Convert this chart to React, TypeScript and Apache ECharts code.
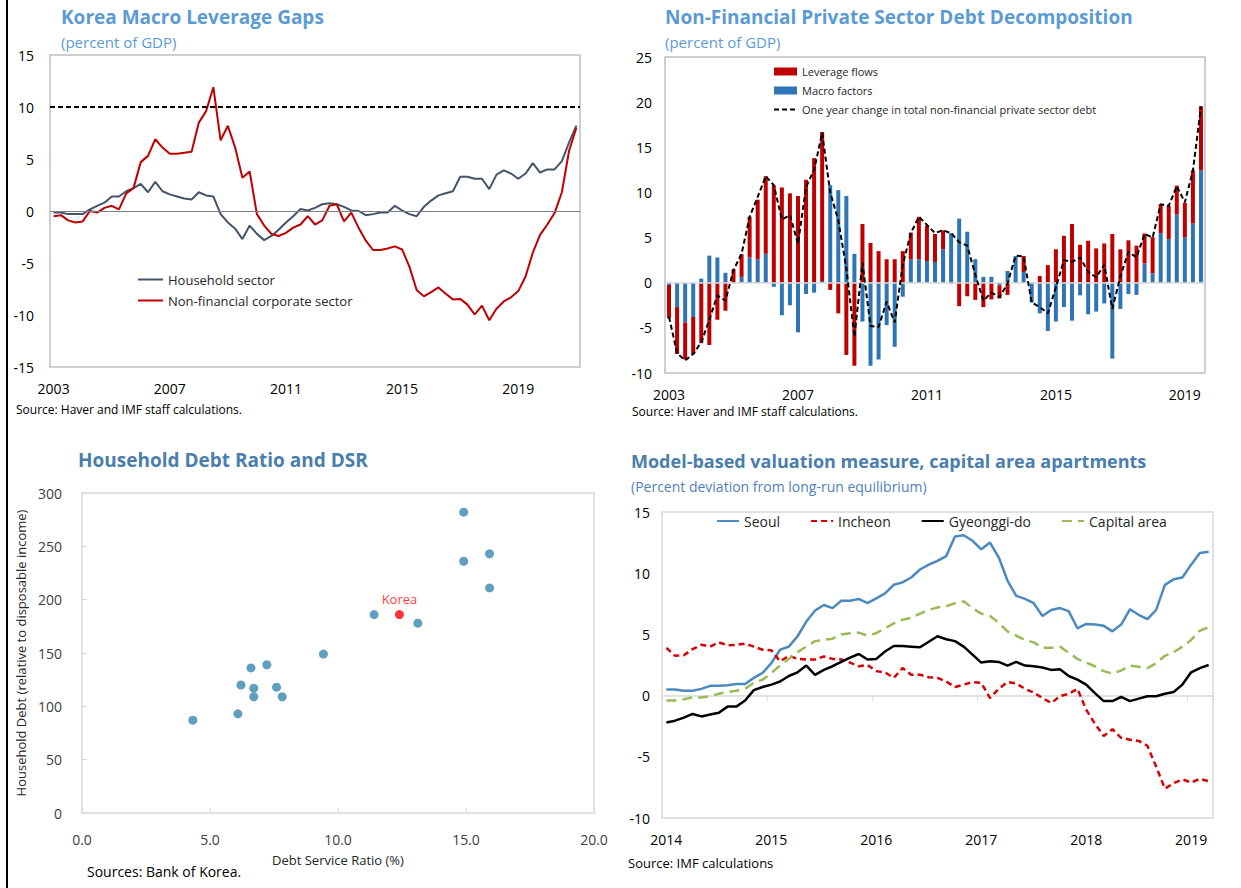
import React, { useEffect, useRef } from "react";
import * as echarts from "echarts";

const FONT = "'Open Sans', 'Noto Sans', sans-serif";

function quarterLabels(startYear: number, count: number): string[] {
  const out: string[] = [];
  for (let i = 0; i < count; i++) out.push(`${startYear + Math.floor(i / 4)}Q${(i % 4) + 1}`);
  return out;
}
function monthLabels(startYear: number, count: number): string[] {
  const out: string[] = [];
  for (let i = 0; i < count; i++) {
    const m = (i % 12) + 1;
    out.push(`${startYear + Math.floor(i / 12)}-${m < 10 ? "0" + m : m}`);
  }
  return out;
}

// ---------- Panel 1: Korea Macro Leverage Gaps ----------
const gapQuarters = quarterLabels(2003, 73);
const householdGap = [
  -0.15, -0.15, -0.3, -0.3, -0.3, 0.15, 0.5, 0.8, 1.4, 1.4,
  1.9, 2.2, 2.6, 1.8, 2.8, 1.9, 1.6, 1.4, 1.2, 1.1,
  1.8, 1.5, 1.4, -0.3, -1.1, -1.7, -2.7, -1.4, -2.2, -2.8,
  -2.4, -1.8, -1.1, -0.5, 0.2, 0.05, 0.3, 0.65, 0.75, 0.65,
  0.4, 0.05, 0.0, -0.4, -0.3, -0.15, -0.15, 0.5, 0.05, -0.3,
  -0.5, 0.4, 1.0, 1.5, 1.7, 1.9, 3.3, 3.3, 3.1, 3.1,
  2.1, 3.5, 3.9, 3.6, 3.1, 3.6, 4.6, 3.7, 4.0, 4.0,
  4.8, 6.6, 8.2,
];
const corporateGap = [
  -0.5, -0.4, -0.9, -1.1, -1.0, 0.0, -0.15, 0.3, 0.5, 0.15,
  1.7, 2.2, 4.7, 5.3, 6.9, 6.1, 5.5, 5.5, 5.6, 5.7,
  8.5, 9.6, 11.9, 6.8, 8.2, 6.1, 3.2, 3.8, -0.3, -1.4,
  -2.2, -2.4, -2.1, -1.6, -1.3, -0.5, -1.3, -0.9, 0.5, 0.65,
  -1.0, -0.15, -1.6, -2.85, -3.75, -3.75, -3.6, -3.4, -3.7, -5.35,
  -7.6, -8.2, -7.8, -7.35, -7.95, -8.5, -8.45, -9.0, -9.95, -9.1,
  -10.5, -9.4, -8.7, -8.3, -7.7, -6.3, -4.0, -2.3, -1.3, -0.2,
  1.8, 5.8, 8.0,
];
const gapThreshold = 10;

// ---------- Panel 2: Debt decomposition ----------
const decompQuarters = quarterLabels(2003, 67);
const macroFactors = [
  -0.25, -2.7, -4.4, -3.8, 0.45, 3.0, 2.8, 1.1, 0.0, 0.65,
  2.8, 2.6, 3.2, -0.45, -3.6, -2.5, -5.5, -1.25, -1.1, 0.2,
  10.8, 10.25, 9.6, 3.2, -4.3, -9.2, -8.5, -4.7, -7.1, -1.55,
  2.6, 2.6, 2.4, 2.3, 3.7, 5.5, 7.1, 5.65, 2.6, 0.65,
  0.65, -0.3, 1.3, 2.95, 1.2, -2.2, -3.4, -5.35, -4.3, -2.7,
  -4.2, -1.4, -3.5, -3.2, -2.3, -8.4, -2.9, -1.25, -1.35, 2.15,
  1.05, 5.5, 4.85, 7.55, 5.05, 6.55, 12.45,
];
const leverageFlows = [
  -3.7, -5.2, -4.1, -4.1, -6.7, -6.9, -4.1, -3.1, 1.5, 2.5,
  4.5, 6.6, 8.6, 10.8, 10.55, 9.9, 9.6, 11.4, 13.8, 16.5,
  -0.8, -3.4, -8.0, -9.2, 6.5, 4.4, 3.5, 2.6, 2.6, 3.5,
  2.95, 4.7, 3.9, 3.1, 2.1, -0.1, -2.6, -1.5, -1.9, -2.7,
  -1.85, -1.45, -1.35, 0.0, 1.75, 0.0, 0.75, 1.95, 3.7, 5.2,
  6.5, 4.2, 4.65, 3.8, 4.35, 5.4, 3.7, 4.7, 4.1, 3.3,
  4.0, 3.2, 3.65, 3.2, 3.8, 5.9, 7.1,
];
const oneYearChange = [
  -3.8, -7.8, -8.6, -7.9, -6.6, -4.1, -1.4, -2.0, 1.4, 3.2,
  7.3, 9.5, 11.8, 10.8, 7.0, 7.5, 4.3, 10.6, 12.5, 16.6,
  10.0, 6.9, 1.6, -6.0, 2.2, -4.8, -4.9, -2.1, -4.4, 2.0,
  5.5, 7.3, 6.4, 5.5, 5.8, 5.5, 4.5, 4.1, 0.9, -2.0,
  -1.1, -1.6, -0.1, 3.0, 2.9, -2.2, -2.7, -3.4, -0.5, 2.5,
  2.3, 2.8, 1.2, 0.6, 2.0, -2.9, 0.7, 3.4, 2.8, 5.4,
  5.0, 8.7, 8.5, 10.7, 8.9, 12.4, 19.5,
];

// ---------- Panel 3: Household debt ratio vs DSR ----------
const dsrCountries: number[][] = [
  [4.33, 87], [6.09, 93], [6.21, 120], [6.6, 136], [6.71, 117], [6.71, 109],
  [7.22, 139], [7.6, 118], [7.82, 109], [9.43, 149], [11.41, 186], [13.12, 178],
  [14.91, 282], [14.91, 236], [15.92, 243], [15.92, 211],
];
const dsrKorea: number[][] = [[12.4, 186]];

// ---------- Panel 4: Valuation measure ----------
const months = monthLabels(2014, 63);
const seoul = [
  0.5, 0.5, 0.4, 0.4, 0.55, 0.8, 0.8, 0.85, 0.95, 0.95,
  1.45, 1.85, 2.65, 3.75, 4.0, 4.85, 6.05, 6.95, 7.4, 7.15,
  7.75, 7.75, 7.9, 7.55, 7.95, 8.35, 9.05, 9.25, 9.65, 10.3,
  10.7, 11.0, 11.4, 13.0, 13.1, 12.65, 11.95, 12.5, 11.3, 9.4,
  8.15, 7.9, 7.55, 6.5, 7.0, 7.15, 6.9, 5.5, 5.85, 5.8,
  5.7, 5.25, 5.8, 7.05, 6.6, 6.25, 7.0, 9.05, 9.5, 9.65,
  10.7, 11.65, 11.75,
];
const incheon = [
  3.9, 3.25, 3.3, 3.8, 4.15, 4.0, 4.35, 4.1, 4.15, 4.25,
  4.0, 3.75, 3.7, 2.8, 3.25, 3.0, 2.95, 2.95, 3.2, 3.0,
  2.95, 2.7, 2.4, 2.5, 2.0, 1.9, 1.45, 2.25, 1.7, 1.7,
  1.5, 1.45, 1.15, 0.7, 0.9, 1.1, 1.05, -0.2, 0.55, 1.1,
  1.0, 0.55, 0.25, -0.2, -0.6, -0.05, 0.15, 0.55, -1.15, -2.3,
  -3.3, -2.75, -3.45, -3.6, -3.7, -4.1, -5.8, -7.6, -7.15, -6.85,
  -7.1, -6.8, -7.0,
];
const gyeonggi = [
  -2.2, -2.05, -1.8, -1.5, -1.7, -1.55, -1.4, -0.9, -0.9, -0.4,
  0.45, 0.7, 0.9, 1.15, 1.6, 1.9, 2.45, 1.7, 2.1, 2.4,
  2.75, 3.1, 3.4, 2.95, 3.0, 3.6, 4.05, 4.05, 4.0, 3.95,
  4.4, 4.85, 4.6, 4.45, 4.0, 3.35, 2.7, 2.8, 2.75, 2.45,
  2.75, 2.45, 2.4, 2.3, 2.1, 2.15, 1.6, 1.3, 0.9, 0.2,
  -0.45, -0.45, -0.1, -0.45, -0.25, -0.05, -0.05, 0.15, 0.3, 0.9,
  1.9, 2.25, 2.5,
];
const capitalArea = [
  -0.4, -0.4, -0.3, -0.15, -0.15, -0.05, 0.15, 0.3, 0.4, 0.55,
  1.05, 1.3, 1.85, 2.45, 3.0, 3.55, 4.0, 4.45, 4.55, 4.65,
  5.0, 5.1, 5.15, 4.9, 5.1, 5.5, 5.9, 6.2, 6.35, 6.7,
  7.0, 7.2, 7.3, 7.55, 7.7, 7.15, 6.7, 6.5, 5.95, 5.25,
  4.9, 4.55, 4.35, 3.9, 3.9, 4.0, 3.5, 3.0, 2.7, 2.4,
  2.0, 1.8, 2.05, 2.45, 2.35, 2.25, 2.65, 3.25, 3.55, 4.0,
  4.55, 5.3, 5.6,
];

const TITLE_LIGHT = "#5b9bd5";
const TITLE_DARK = "#4a7eac";

function titleItem(text: string, left: number, top: number, fontSize: number, color: string, bold: boolean) {
  return {
    text,
    left,
    top,
    padding: 0,
    textStyle: { fontSize, color, fontWeight: bold ? "bold" : "normal", fontFamily: FONT },
  };
}

const tickLabel = (margin: number, color = "#000") => ({
  fontSize: 14,
  color,
  margin,
  fontFamily: FONT,
});

// legend entry for a line series: line only, no marker
const lineEntry = (name: string) => ({ name, itemStyle: { opacity: 0 } });

export default function App() {
  const ref = useRef<HTMLDivElement>(null);

  useEffect(() => {
    if (!ref.current) return;
    const chart = echarts.init(ref.current, undefined, { renderer: "svg" });

    const option: any = {
      animation: false,
      backgroundColor: "#ffffff",
      textStyle: { fontFamily: FONT },
      title: [
        titleItem("Korea Macro Leverage Gaps", 61, 7, 19, TITLE_LIGHT, true),
        titleItem("(percent of GDP)", 61, 34, 15, TITLE_LIGHT, false),
        titleItem("Non-Financial Private Sector Debt Decomposition", 665, 7, 19, TITLE_LIGHT, true),
        titleItem("(percent of GDP)", 665, 34, 15, TITLE_LIGHT, false),
        titleItem("Household Debt Ratio and DSR", 78, 450, 19, TITLE_DARK, true),
        titleItem("Model-based valuation measure, capital area apartments", 631, 452, 18, TITLE_DARK, true),
        titleItem("(Percent deviation from long-run equilibrium)", 631, 479, 14, "#4f81bd", false),
        titleItem("Source: Haver and IMF staff calculations.", 16, 403, 12, "#000", false),
        titleItem("Source: Haver and IMF staff calculations.", 632, 405, 12, "#000", false),
        titleItem("Sources: Bank of Korea.", 87, 864, 14, "#000", false),
        titleItem("Source: IMF calculations", 628, 856, 13, "#000", false),
      ],
      legend: [
        {
          data: [lineEntry("Household sector"), lineEntry("Non-financial corporate sector")],
          orient: "vertical",
          left: 137,
          top: 273,
          itemGap: 8,
          itemWidth: 25,
          itemHeight: 10,
          selectedMode: false,
          padding: 0,
          textStyle: { fontSize: 13, color: "#262626", fontFamily: FONT },
        },
        {
          data: [
            { name: "Leverage flows", icon: "rect" },
            { name: "Macro factors", icon: "rect" },
            lineEntry("One year change in total non-financial private sector debt"),
          ],
          orient: "vertical",
          left: 773,
          top: 66,
          itemGap: 8,
          itemWidth: 23,
          itemHeight: 8,
          selectedMode: false,
          padding: 0,
          textStyle: { fontSize: 11, color: "#262626", fontFamily: FONT },
        },
        {
          data: [lineEntry("Seoul"), lineEntry("Incheon"), lineEntry("Gyeonggi-do"), lineEntry("Capital area")],
          orient: "horizontal",
          left: 716,
          top: 514,
          itemGap: 30,
          itemWidth: 22,
          itemHeight: 10,
          selectedMode: false,
          padding: 0,
          textStyle: { fontSize: 14, color: "#262626", fontFamily: FONT },
        },
      ],
      grid: [
        { left: 50, top: 55, width: 530, height: 312, show: true, borderColor: "#bfbfbf", borderWidth: 1.5, backgroundColor: "transparent" },
        { left: 665, top: 57, width: 540, height: 316, show: true, borderColor: "#bfbfbf", borderWidth: 1.5, backgroundColor: "transparent" },
        { left: 82, top: 493, width: 512, height: 320, show: true, borderColor: "#d9d9d9", borderWidth: 1.5, backgroundColor: "transparent" },
        { left: 662, top: 512, width: 551, height: 306, show: true, borderColor: "#d9d9d9", borderWidth: 1.5, backgroundColor: "transparent" },
      ],
      xAxis: [
        {
          gridIndex: 0,
          type: "category",
          data: gapQuarters,
          boundaryGap: true,
          axisLine: { show: false, onZero: false },
          axisTick: { show: false },
          splitLine: { show: false },
          axisLabel: { ...tickLabel(14), interval: (i: number) => i % 16 === 0, formatter: (v: string) => v.slice(0, 4) },
        },
        {
          gridIndex: 1,
          type: "category",
          data: decompQuarters,
          boundaryGap: true,
          axisLine: { show: false, onZero: false },
          axisTick: { show: false },
          splitLine: { show: false },
          axisLabel: { ...tickLabel(14), interval: (i: number) => i % 16 === 0, formatter: (v: string) => v.slice(0, 4) },
        },
        {
          gridIndex: 2,
          type: "value",
          min: 0,
          max: 20,
          interval: 5,
          axisLine: { show: false },
          axisTick: { show: true, inside: true, length: 5, lineStyle: { color: "#d9d9d9" } },
          splitLine: { show: false },
          axisLabel: { ...tickLabel(19, "#404040"), formatter: (v: number) => v.toFixed(1) },
          name: "Debt Service Ratio (%)",
          nameLocation: "middle",
          nameGap: 40,
          nameTextStyle: { fontSize: 13, color: "#262626", fontFamily: FONT },
        },
        {
          gridIndex: 3,
          type: "category",
          data: months,
          boundaryGap: true,
          axisLine: { show: false, onZero: false },
          axisTick: { show: false },
          splitLine: { show: false },
          axisLabel: { ...tickLabel(14), interval: (i: number) => i % 12 === 0, formatter: (v: string) => v.slice(0, 4) },
        },
        {
          gridIndex: 3,
          type: "category",
          data: months,
          boundaryGap: true,
          axisLine: { show: true, onZero: true, lineStyle: { color: "#d9d9d9", width: 1.5 } },
          axisTick: { show: true, inside: true, interval: 11, length: 5, lineStyle: { color: "#d9d9d9" } },
          splitLine: { show: false },
          axisLabel: { show: false },
        },
      ],
      yAxis: [
        {
          gridIndex: 0,
          type: "value",
          min: -15,
          max: 15,
          interval: 5,
          axisLine: { show: false },
          axisTick: { show: false },
          splitLine: { show: false },
          axisLabel: tickLabel(16),
        },
        {
          gridIndex: 1,
          type: "value",
          min: -10,
          max: 25,
          interval: 5,
          axisLine: { show: false },
          axisTick: { show: false },
          splitLine: { show: false },
          axisLabel: tickLabel(13),
        },
        {
          gridIndex: 2,
          type: "value",
          min: 0,
          max: 300,
          interval: 50,
          axisLine: { show: false },
          axisTick: { show: true, inside: true, length: 5, lineStyle: { color: "#d9d9d9" } },
          splitLine: { show: false },
          axisLabel: tickLabel(20, "#404040"),
          name: "Household Debt (relative to disposable income)",
          nameLocation: "middle",
          nameGap: 55,
          nameRotate: 90,
          nameTextStyle: { fontSize: 13, color: "#262626", fontFamily: FONT },
        },
        {
          gridIndex: 3,
          type: "value",
          min: -10,
          max: 15,
          interval: 5,
          axisLine: { show: false },
          axisTick: { show: false },
          splitLine: { show: false },
          axisLabel: tickLabel(12),
        },
      ],
      series: [
        {
          name: "Household sector",
          type: "line",
          xAxisIndex: 0,
          yAxisIndex: 0,
          data: householdGap,
          symbol: "none",
          lineStyle: { color: "#44546a", width: 2 },
          itemStyle: { color: "#44546a" },
          markLine: {
            silent: true,
            symbol: ["none", "none"],
            label: { show: false },
            data: [
              { yAxis: 0, lineStyle: { color: "#808080", width: 1, type: "solid" } },
              { yAxis: gapThreshold, lineStyle: { color: "#000", width: 2, type: [5, 3] } },
            ],
          },
          z: 3,
        },
        {
          name: "Non-financial corporate sector",
          type: "line",
          xAxisIndex: 0,
          yAxisIndex: 0,
          data: corporateGap,
          symbol: "none",
          lineStyle: { color: "#c00000", width: 2 },
          itemStyle: { color: "#c00000" },
          z: 4,
        },
        {
          name: "Macro factors",
          type: "bar",
          stack: "decomp",
          xAxisIndex: 1,
          yAxisIndex: 1,
          data: macroFactors,
          barWidth: 4,
          itemStyle: { color: "#2e75b6" },
          markLine: {
            silent: true,
            symbol: ["none", "none"],
            label: { show: false },
            data: [{ yAxis: 0, lineStyle: { color: "#d9d9d9", width: 1.5, type: "solid" } }],
          },
        },
        {
          name: "Leverage flows",
          type: "bar",
          stack: "decomp",
          xAxisIndex: 1,
          yAxisIndex: 1,
          data: leverageFlows,
          barWidth: 4,
          itemStyle: { color: "#c00000" },
        },
        {
          name: "One year change in total non-financial private sector debt",
          type: "line",
          xAxisIndex: 1,
          yAxisIndex: 1,
          data: oneYearChange,
          symbol: "none",
          lineStyle: { color: "#000", width: 2, type: [5, 3] },
          itemStyle: { color: "#000" },
          z: 5,
        },
        {
          name: "Other economies",
          type: "scatter",
          xAxisIndex: 2,
          yAxisIndex: 2,
          data: dsrCountries,
          symbolSize: 9,
          itemStyle: { color: "#3a87b0" },
        },
        {
          name: "Korea",
          type: "scatter",
          xAxisIndex: 2,
          yAxisIndex: 2,
          data: dsrKorea,
          symbolSize: 9,
          itemStyle: { color: "#ff0000" },
          label: { show: true, position: "top", distance: 5, formatter: "Korea", color: "#ff0000", fontSize: 13, fontFamily: FONT },
        },
        {
          name: "Seoul",
          type: "line",
          xAxisIndex: 3,
          yAxisIndex: 3,
          data: seoul,
          symbol: "none",
          lineStyle: { color: "#4a8ac0", width: 2.5 },
          itemStyle: { color: "#4a8ac0" },
        },
        {
          name: "Incheon",
          type: "line",
          xAxisIndex: 3,
          yAxisIndex: 3,
          data: incheon,
          symbol: "none",
          lineStyle: { color: "#d80000", width: 2.5, type: [6, 4] },
          itemStyle: { color: "#d80000" },
        },
        {
          name: "Gyeonggi-do",
          type: "line",
          xAxisIndex: 3,
          yAxisIndex: 3,
          data: gyeonggi,
          symbol: "none",
          lineStyle: { color: "#000", width: 2.5 },
          itemStyle: { color: "#000" },
        },
        {
          name: "Capital area",
          type: "line",
          xAxisIndex: 3,
          yAxisIndex: 3,
          data: capitalArea,
          symbol: "none",
          lineStyle: { color: "#9bbb59", width: 2.5, type: [10, 6] },
          itemStyle: { color: "#9bbb59" },
        },
      ],
      graphic: [
        { type: "rect", shape: { x: 6, y: 0, width: 2, height: 888 }, style: { fill: "#000" }, silent: true },
      ],
    };

    chart.setOption(option);
    return () => chart.dispose();
  }, []);

  return (
    <div
      ref={ref}
      style={{ position: "absolute", left: 0, top: 0, width: 1241, height: 888, background: "#fff" }}
    />
  );
}
